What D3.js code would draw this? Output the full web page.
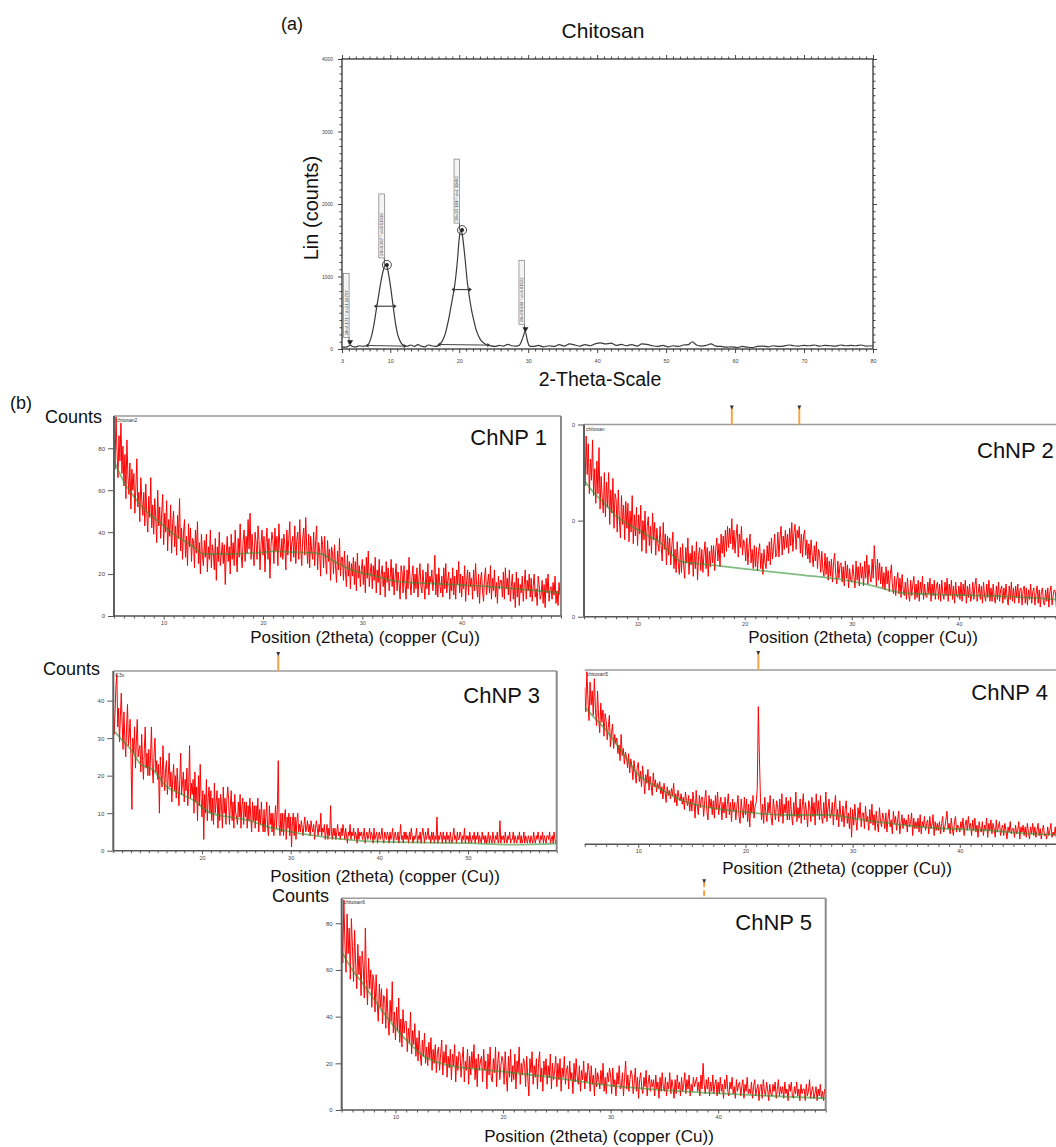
<!DOCTYPE html>
<html>
<head>
<meta charset="utf-8">
<script src="https://cdn.jsdelivr.net/npm/d3@7"></script>
<style>
  body { margin: 0; background: #fff; }
  svg { display: block; }
  text { font-family: "Liberation Sans", Arial, sans-serif; }
</style>
</head>
<body>
<svg id="fig" width="1056" height="1147"></svg>
<script>
// ---------- (a) Chitosan powder pattern: [2theta, counts] ----------
const chitosanPattern = [
  [3.0,30],[3.5,25],[4.0,40],[4.2,55],[4.5,35],[5.0,28],[5.5,45],[6.0,38],[6.5,42],[6.8,60],
  [7.2,150],[7.6,320],[8.0,560],[8.4,790],[8.7,960],[9.0,1090],[9.3,1160],[9.5,1140],[9.8,1010],
  [10.1,820],[10.4,600],[10.8,330],[11.1,190],[11.5,95],[11.9,50],[12.4,38],[13.0,55],[13.5,35],
  [14.0,60],[14.5,40],[15.0,30],[15.5,55],[16.0,45],[16.5,35],[17.0,50],[17.3,75],[17.7,140],
  [18.0,220],[18.4,380],[18.7,530],[19.0,690],[19.3,850],[19.7,1180],[20.0,1520],[20.2,1640],
  [20.4,1600],[20.8,1290],[21.2,900],[21.5,700],[21.8,530],[22.1,400],[22.4,280],[22.8,180],
  [23.1,125],[23.6,80],[24.1,55],[24.6,42],[25.2,35],[25.8,50],[26.4,40],[27.0,65],[27.6,45],
  [28.2,40],[28.7,50],[29.0,100],[29.3,180],[29.55,245],[29.9,110],[30.2,40],[30.8,35],[31.5,50],
  [32.2,30],[33.0,45],[33.8,35],[34.5,60],[35.2,40],[36.0,70],[36.8,55],[37.5,40],[38.2,60],
  [39.0,45],[39.8,75],[40.5,85],[41.2,70],[42.0,80],[42.8,50],[43.5,65],[44.2,45],[45.0,60],
  [45.8,40],[46.5,70],[47.2,65],[48.0,45],[48.8,35],[49.5,50],[50.3,30],[51.0,45],[51.8,35],
  [52.5,55],[53.2,60],[53.8,100],[54.4,55],[55.0,40],[55.8,50],[56.5,70],[57.2,40],[58.0,35],
  [58.8,25],[59.5,30],[60.3,20],[61.0,35],[61.8,25],[62.5,20],[63.2,35],[64.0,40],[64.8,30],
  [65.5,45],[66.3,35],[67.0,40],[67.8,55],[68.5,45],[69.2,40],[70.0,50],[70.8,45],[71.5,55],
  [72.3,40],[73.0,50],[73.8,45],[74.5,40],[75.3,55],[76.0,45],[76.8,50],[77.5,45],[78.3,55],
  [79.0,40],[80.0,45]
];
const chitosanXTicks = [3, 10, 20, 30, 40, 50, 60, 70, 80];
const chitosanYTicks = [0, 1000, 2000, 3000, 4000];
const chitosanPeaks = [
  { theta: 4.171,  counts: 65,   label: "2θ=4.171 ° d=21.16707",  mark: "tri" },
  { theta: 9.287,  counts: 1160, label: "2θ=9.287 ° d=9.51530",   mark: "circle" },
  { theta: 20.189, counts: 1640, label: "2θ=20.189 ° d=4.39482",  mark: "circle" },
  { theta: 29.603, counts: 245,  label: "2θ=29.603 ° d=3.01522",  mark: "tri" }
];
// fitted peak areas: base segment and full width at half maximum
const chitosanFits = [
  { lo: 6.84,  hi: 11.94, base: 48, fwhmLo: 8.05,  fwhmHi: 10.48, half: 590 },
  { lo: 17.28, hi: 24.06, base: 62, fwhmLo: 19.31, fwhmHi: 21.40, half: 820 }
];

// ---------- (b) Nanoparticle scans: counts every 0.1° from the scan start (one row per degree) ----------
const scanStep = 0.1;

const chnp1Counts = [
  88,70,95,79,66,86,74,92,68,81,  62,77,56,84,67,58,73,51,70,60,
  68,49,61,75,52,59,45,66,55,48,  59,43,63,49,40,57,47,66,42,53,
  39,56,47,35,60,43,52,37,49,58,  34,49,40,55,31,46,38,53,30,44,
  50,33,43,29,48,37,56,31,42,27,  40,46,28,38,24,44,33,42,26,37,
  36,23,41,30,45,25,35,20,39,29,  24,36,28,39,21,33,27,41,23,34,
  30,22,37,17,33,26,40,24,29,35,  25,34,15,30,38,26,33,20,39,27,
  35,24,41,29,21,37,28,44,30,23,  36,41,26,38,30,46,32,49,27,39,
  31,24,40,35,27,43,36,22,34,41,  29,38,21,35,42,27,37,18,33,40,
  36,25,42,31,38,24,44,33,28,37,  27,39,34,22,41,29,37,45,26,35,
  38,28,43,25,36,40,27,46,32,24,  37,42,29,47,33,25,39,23,38,31,
  27,40,24,36,43,22,35,31,19,38,  34,23,38,27,20,36,26,32,17,33,
  30,20,34,24,16,31,22,37,19,28,  28,17,31,21,14,29,19,26,13,25,
  19,28,15,26,12,30,18,24,14,22,  27,15,24,11,28,18,31,14,21,25,
  13,24,17,28,11,22,16,27,10,20,  24,14,21,9,26,16,23,12,18,27,
  14,23,10,19,25,12,21,16,8,24,   21,11,24,15,8,22,13,28,17,10,
  19,24,11,20,13,23,9,18,25,14,   11,22,15,8,21,13,25,10,19,16,
  22,12,18,29,10,20,9,23,15,11,   19,9,23,13,25,11,17,21,8,18,
  12,23,10,19,8,22,15,26,11,20,   9,19,13,24,7,17,22,10,21,14,
  18,8,22,12,25,15,9,20,6,17,     21,12,7,18,23,10,15,20,11,24,
  8,18,12,22,9,16,6,19,13,17,     17,9,21,8,23,13,18,10,22,7,
  14,20,8,16,4,21,9,18,5,15,      11,19,7,15,22,8,17,12,20,9,
  18,7,14,20,9,13,5,19,15,8,      10,17,6,15,4,18,11,20,7,13,
  14,8,16,10,19,6,12,5,16,10,
  11
];
const chnp1Background = [[5,74],[6,64],[7,57],[8,51],[9,47],[10,43],[11,39],[12,36],[13,33],[14,29.5],
  [16,29.5],[18,29.8],[20,30.3],[21,30.8],[23,30.5],[25,30.1],[26,29.5],[27,26.5],[28,24],[29,21.9],
  [30,20.5],[31,19.5],[32,18.2],[33,17],[34,16.3],[37,15.5],[40,14.8],[45,13.2],[50,11]];

const chnp2Counts = [
  84,68,94,74,90,64,82,71,92,63,  77,59,81,64,88,56,73,62,54,75,
  52,70,57,75,48,66,54,72,46,64,  61,44,66,51,41,63,48,58,40,60,
  46,59,39,55,44,63,38,53,42,57,  37,53,43,58,34,50,40,55,33,47,
  52,37,47,33,54,40,49,32,46,38,  34,47,37,29,49,35,43,27,42,32,
  41,27,37,44,25,35,23,39,28,22,  36,23,38,27,20,36,28,41,22,33,
  27,37,21,34,25,39,19,32,36,24,  35,23,33,39,25,36,21,34,26,37,
  28,37,24,35,41,29,38,26,43,33,  42,31,45,34,47,36,46,38,51,35,
  45,33,42,48,31,43,36,47,32,40,  38,29,41,27,36,43,28,35,25,37,
  26,36,24,34,38,25,33,22,35,28,  25,37,29,39,27,41,30,36,43,31,
  33,44,31,41,47,32,42,35,45,36,  43,33,46,37,49,34,44,48,35,45,
  41,47,33,43,31,42,45,32,40,30,  38,28,40,32,26,37,29,39,25,35,
  32,23,34,25,21,33,22,31,19,29,  21,30,18,28,33,22,17,29,20,27,
  28,18,26,16,29,20,27,15,25,19,  18,27,21,15,29,19,26,16,28,20,
  26,16,29,20,32,17,27,21,18,30,  20,37,27,16,30,19,28,17,26,15,
  23,14,26,17,24,13,22,27,15,12,  21,11,19,23,12,20,10,22,14,11,
  18,9,20,12,8,19,11,17,21,9,     17,10,19,8,18,12,21,9,17,11,
  10,18,12,20,8,17,11,19,9,16,    18,9,17,8,19,12,9,18,11,20,
  8,17,11,19,9,16,7,18,11,10,     16,9,18,8,17,11,19,7,16,10,
  17,8,11,18,9,16,20,8,12,17,     9,16,7,18,11,8,17,10,19,8,
  15,8,17,10,7,16,9,18,8,14,      16,7,15,9,17,10,6,16,9,18,
  8,15,7,16,10,17,7,14,15,6,      14,16,7,15,6,14,9,17,7,13,
  15,6,12,16,7,14,5,13,15,7,      6,14,8,15,5,13,16,6,11,14,
  13,5,11,14,6,15,5,12,13,6,
  10
];
const chnp2Background = [[5,71],[6,64],[7,58.5],[8,52.4],[9,48.5],[10,45.4],[11,42],[12,39.3],[13,33.5],
  [14,28.8],[15,28],[17,26.8],[20,24.9],[25,21.9],[30,18.4],[32,16],[35,12.2],[40,11.3],[45,10.4],[50,8.5]];
const chnp2Markers = [18.8, 25.1];

const chnp3Counts = [
  40,31,37,44,47,33,38,29,36,42,  34,27,37,30,25,33,39,28,31,35,
  24,11,30,26,33,22,29,35,25,27,  28,21,31,24,19,27,33,22,26,20,
  27,20,25,33,22,18,26,30,21,24,  19,23,10,25,20,17,28,21,16,22,
  24,15,20,26,17,21,13,19,23,16,  20,14,22,17,12,19,26,15,18,21,
  13,19,16,22,12,17,28,14,18,15,  19,10,21,13,17,8,20,12,23,14,
  9,16,3,15,10,19,8,14,17,10,     16,8,14,7,18,10,13,16,6,14,
  8,15,12,6,17,10,14,7,13,17,     14,7,12,16,8,13,6,15,10,9,
  7,13,9,15,6,12,14,7,13,9,       13,6,12,8,14,9,5,13,8,12,
  6,12,8,14,5,11,7,13,8,5,        11,5,9,13,6,4,12,7,10,5,
  10,4,8,12,6,11,24,7,4,10,       5,10,4,9,11,3,9,6,10,4,
  9,1,8,10,4,9,3,8,10,5,          7,5,8,6,4,7,9,5,6,8,
  5,7,4,8,6,5,7,3,6,8,            6,4,7,5,10,4,6,5,7,3,
  5,7,3,6,4,12,5,3,6,4,           6,3,5,7,4,5,3,6,4,7,
  5,3,6,4,2,5,4,7,3,5,            4,6,3,5,4,2,6,3,5,4,
  5,3,4,6,2,4,5,3,4,6,            3,5,4,2,6,3,4,5,2,4,
  5,3,4,6,3,2,5,4,3,5,            4,2,5,3,4,6,2,4,5,3,
  3,5,2,4,7,3,4,2,5,3,            5,3,4,2,5,3,6,4,2,4,
  3,4,6,2,4,3,5,2,4,6,            4,2,5,3,4,6,3,4,2,5,
  3,5,2,4,3,9,2,4,3,5,            4,2,5,3,4,2,5,3,4,2,
  5,3,2,4,6,3,4,2,5,3,            3,5,4,2,4,3,6,2,4,3,
  4,2,5,3,2,4,3,5,2,4,            3,5,2,4,3,2,5,3,4,2,
  4,2,3,5,2,4,3,2,5,3,            2,4,3,5,2,3,8,2,4,3,
  4,2,5,3,2,4,3,5,2,3,            3,5,2,4,3,2,4,3,5,2,
  4,2,3,5,2,4,3,2,4,3,            2,4,3,2,5,3,2,4,3,5,
  3,2,4,3,5,2,4,3,2,4,            4,3,5,2,3,4,2,5,3,2,
  3
];
const chnp3Background = [[10,32.2],[11,29.5],[12,26.9],[13,23.3],[14.5,21.5],[16,17.1],[17.5,15.3],[19,13.5],
  [21,10],[23,9],[25,8.2],[28,6],[31,4.6],[35,3.3],[40,2.4],[50,2.0],[55,1.6],[60,1.9]];
const chnp3Markers = [28.6];

const chnp4Counts = [
  90,76,99,84,71,93,80,88,74,95,  78,68,88,73,64,81,70,77,62,75,
  71,60,67,74,56,64,69,55,63,58,  61,52,57,48,63,51,55,46,53,50,
  44,52,41,49,45,37,48,42,35,44,  47,36,42,33,45,38,29,40,35,43,
  31,39,34,28,41,33,37,30,35,32,  36,29,33,26,35,30,24,33,28,31,
  26,32,28,35,24,29,22,31,27,25,  29,23,27,20,30,25,22,28,19,26,
  19,30,24,15,31,22,17,28,21,27,  27,16,25,31,19,14,28,21,26,17,
  25,15,28,20,30,17,23,27,14,24,  18,27,15,23,29,17,24,13,26,19,
  24,14,22,28,16,12,26,19,15,27,  17,26,13,23,10,25,18,28,15,22,
  24,32,79,50,26,14,23,12,27,18,  13,24,18,28,15,11,26,20,14,25,
  22,13,26,16,29,12,23,18,27,14,  25,14,27,17,11,24,16,30,13,21,
  15,26,12,22,29,14,24,18,10,25,  22,13,27,16,24,11,29,17,25,14,
  28,16,12,24,15,30,13,21,26,15,  17,24,11,22,28,14,20,10,25,16,
  13,22,10,20,25,12,18,9,21,4,    20,11,23,14,8,21,15,24,10,18,
  18,9,22,13,16,8,20,12,23,11,    17,8,19,12,7,21,13,10,18,15,
  9,18,7,15,20,10,14,6,19,12,     16,8,14,19,6,12,17,9,15,11,
  14,7,17,10,12,18,5,15,9,13,     9,15,7,17,6,13,10,16,8,12,
  14,6,16,9,11,17,5,13,8,12,      8,13,6,12,16,7,10,14,19,9,
  12,6,15,9,5,13,16,7,11,10,      7,13,9,15,5,11,14,8,16,9,
  12,5,14,8,15,7,11,4,13,9,       7,13,5,11,8,15,4,12,8,14,
  6,12,9,4,14,7,10,13,5,9,        11,5,12,8,3,10,7,13,6,9,
  9,4,11,6,8,13,3,10,7,11,        5,10,4,12,7,3,10,6,12,5,
  10,4,8,12,5,9,3,8,11,5,         6,3,10,5,8,12,4,7,5,10,
  4,9,5,8,3,6,10,5,8,4,
  6
];
const chnp4Background = [[5,78.9],[6,72],[7,65.6],[8,57],[9,48.4],[10,39.8],[11,35.5],[12,32.1],[13,28.5],
  [14,25.4],[15,23.3],[17,20.7],[20,18.4],[24,16.8],[28,16.8],[30,14.9],[34,11.6],[38,9.2],[42,8.2],[46,6.3],[50,5.4]];
const chnp4Markers = [21.2];

const chnp5Counts = [
  80,63,90,71,59,84,67,78,56,82,  70,55,77,62,52,71,58,66,49,68,
  62,48,78,56,45,65,52,60,44,58,  55,42,58,46,38,54,44,52,37,49,
  48,35,52,40,32,47,38,55,33,42,  30,44,34,48,29,39,27,43,33,38,
  38,25,35,29,42,24,34,28,37,23,  31,21,34,24,19,30,23,33,20,27,
  19,29,22,31,17,26,20,28,16,25,  27,17,24,30,15,25,20,28,14,23,
  18,26,13,24,19,28,12,23,17,25,  24,14,22,27,12,21,17,26,11,23,
  15,25,18,28,13,22,10,24,17,21,  23,12,26,17,21,9,24,15,27,14,
  12,22,16,27,10,20,25,13,19,23,  21,11,25,15,8,23,14,26,12,19,
  13,24,9,21,16,27,11,20,15,22,   20,10,23,14,6,22,16,25,11,19,
  14,22,9,20,25,12,18,8,21,15,    22,11,19,14,24,9,20,13,17,23,
  10,20,13,22,8,18,14,23,11,17,   19,9,21,13,16,7,20,12,22,14,
  11,19,8,17,13,21,9,16,12,20,    17,8,19,11,15,6,18,10,16,13,
  9,17,11,20,8,14,7,16,12,18,     15,7,18,10,13,6,16,11,19,9,
  10,16,6,14,21,9,15,8,13,17,     15,7,12,18,8,14,5,13,16,9,
  7,14,10,17,6,12,15,8,13,10,     13,6,15,9,12,5,14,8,16,10,
  8,14,6,12,9,16,7,13,10,5,       13,7,15,9,12,6,14,8,11,16,
  7,13,9,15,6,11,8,14,10,12,      14,8,12,6,15,9,20,11,7,13,
  9,14,6,12,8,15,7,11,13,6,       12,7,14,8,11,5,13,9,15,8,
  6,12,9,14,7,10,5,13,8,11,       12,6,10,13,5,11,8,14,7,9,
  7,12,5,10,13,6,9,11,4,10,       11,5,13,8,6,12,9,4,11,7,
  6,11,8,12,5,9,13,6,10,7,        10,5,12,7,9,4,11,8,12,6,
  5,10,7,12,6,9,4,11,7,9,         9,4,11,6,8,13,5,8,10,5,
  7,10,4,9,6,11,5,8,4,9,
  6
];
const chnp5Background = [[5,67.8],[6,60],[7,54],[8,47.5],[9,41],[10,35],[11,30],[12,25.5],[13,22],[14,20.3],
  [15,19],[17,17.8],[20,16.4],[25,13.7],[30,10.4],[35,8.5],[40,7.1],[45,6],[50,5]];
const chnp5Markers = [38.7];

const xTitle = "Position (2theta) (copper (Cu))";

// ---------- drawing ----------
const svg = d3.select("#fig");
const defs = svg.append("defs");

function styleTicks(g, size, color) {
  g.select(".domain").remove();
  g.selectAll(".tick line").attr("stroke", color || "#444");
  g.selectAll(".tick text").attr("font-size", size).attr("fill", "#444")
    .attr("font-family", "'Liberation Sans', Arial, sans-serif");
}

// ---- panel (a) ----
(function drawChitosan() {
  const A = { l: 342, r: 873, t: 59, b: 349 };
  const x = d3.scaleLinear().domain([3, 80]).range([A.l, A.r]);
  const y = d3.scaleLinear().domain([0, 4000]).range([A.b, A.t]);
  const g = svg.append("g");

  const xMinor = d3.range(4, 80).filter(v => !chitosanXTicks.includes(v));
  const yMinor = d3.range(100, 4000, 100).filter(v => !chitosanYTicks.includes(v));

  g.append("g").attr("transform", `translate(0,${A.b})`)
    .call(d3.axisBottom(x).tickValues(chitosanXTicks).tickSize(4).tickPadding(6).tickFormat(d3.format("d")))
    .call(s => styleTicks(s, 5.5));
  g.append("g").attr("transform", `translate(0,${A.b})`)
    .call(d3.axisBottom(x).tickValues(xMinor).tickSize(2.5).tickFormat(""))
    .call(s => styleTicks(s, 5.5));
  g.append("g").attr("transform", `translate(0,${A.t})`)
    .call(d3.axisTop(x).tickValues(chitosanXTicks).tickSize(4).tickFormat(""))
    .call(s => styleTicks(s, 5.5));
  g.append("g").attr("transform", `translate(0,${A.t})`)
    .call(d3.axisTop(x).tickValues(xMinor).tickSize(2.5).tickFormat(""))
    .call(s => styleTicks(s, 5.5));
  g.append("g").attr("transform", `translate(${A.l},0)`)
    .call(d3.axisLeft(y).tickValues(chitosanYTicks).tickSize(4).tickPadding(5).tickFormat(d3.format("d")))
    .call(s => styleTicks(s, 5));
  g.append("g").attr("transform", `translate(${A.l},0)`)
    .call(d3.axisLeft(y).tickValues(yMinor).tickSize(2.5).tickFormat(""))
    .call(s => styleTicks(s, 5));
  g.append("g").attr("transform", `translate(${A.r},0)`)
    .call(d3.axisRight(y).tickValues(chitosanYTicks).tickSize(4).tickFormat(""))
    .call(s => styleTicks(s, 5));
  g.append("g").attr("transform", `translate(${A.r},0)`)
    .call(d3.axisRight(y).tickValues(yMinor).tickSize(2.5).tickFormat(""))
    .call(s => styleTicks(s, 5));

  g.append("rect").attr("x", A.l).attr("y", A.t).attr("width", A.r - A.l).attr("height", A.b - A.t)
    .attr("fill", "none").attr("stroke", "#333").attr("stroke-width", 1.3);

  // fitted base segments and half-width bars
  chitosanFits.forEach(f => {
    g.append("line").attr("x1", x(f.lo)).attr("x2", x(f.hi)).attr("y1", y(f.base)).attr("y2", y(f.base - 8))
      .attr("stroke", "#444").attr("stroke-width", 1);
    g.append("line").attr("x1", x(f.fwhmLo)).attr("x2", x(f.fwhmHi)).attr("y1", y(f.half)).attr("y2", y(f.half))
      .attr("stroke", "#444").attr("stroke-width", 1.2);
    [[f.lo, f.base, -1], [f.hi, f.base - 8, 1], [f.fwhmLo, f.half, -1], [f.fwhmHi, f.half, 1]].forEach(([t, c, dir]) => {
      const px = x(t), py = y(c);
      g.append("path").attr("d", `M${px},${py - 2.2}L${px},${py + 2.2}L${px + dir * 3},${py}Z`).attr("fill", "#333");
    });
  });

  g.append("path").datum(chitosanPattern)
    .attr("fill", "none").attr("stroke", "#3a3a3a").attr("stroke-width", 1.2)
    .attr("d", d3.line().x(d => x(d[0])).y(d => y(d[1])).curve(d3.curveMonotoneX));

  // peak markers with rotated labels
  chitosanPeaks.forEach(p => {
    const px = x(p.theta), py = y(p.counts);
    const boxBottom = py - 7, boxH = 64;
    g.append("line").attr("x1", px - 1).attr("x2", px - 1).attr("y1", boxBottom).attr("y2", py)
      .attr("stroke", "#333").attr("stroke-width", 0.8);
    g.append("rect").attr("x", px - 6.5).attr("y", boxBottom - boxH).attr("width", 5.5).attr("height", boxH)
      .attr("fill", "#f4f4f4").attr("stroke", "#666").attr("stroke-width", 0.6);
    g.append("text").attr("transform", `translate(${px - 2.3},${boxBottom - 2}) rotate(-90)`)
      .attr("font-size", 4.3).attr("fill", "#333").text(p.label);
    if (p.mark === "circle") {
      g.append("circle").attr("cx", px + 1.5).attr("cy", py).attr("r", 4.5)
        .attr("fill", "none").attr("stroke", "#333").attr("stroke-width", 0.9);
      g.append("circle").attr("cx", px + 1.5).attr("cy", py).attr("r", 2).attr("fill", "#222");
    } else {
      g.append("path").attr("d", `M${px - 3},${py - 4}L${px + 3},${py - 4}L${px},${py + 1}Z`).attr("fill", "#222");
    }
  });

  svg.append("text").attr("x", 281).attr("y", 30).attr("font-size", 18).attr("fill", "#111").text("(a)");
  svg.append("text").attr("x", 603).attr("y", 38).attr("text-anchor", "middle").attr("font-size", 21).attr("fill", "#111").text("Chitosan");
  svg.append("text").attr("transform", `translate(318,208) rotate(-90)`).attr("text-anchor", "middle")
    .attr("font-size", 20).attr("fill", "#111").text("Lin (counts)");
  svg.append("text").attr("x", 600).attr("y", 386).attr("text-anchor", "middle").attr("font-size", 19.5)
    .attr("fill", "#111").text("2-Theta-Scale");
})();

svg.append("text").attr("x", 10).attr("y", 409).attr("font-size", 18).attr("fill", "#111").text("(b)");

// ---- panels (b) ----
const panels = [
  { id: "p1", name: "ChNP 1", tag: "chitosan2", counts: chnp1Counts, start: 5, bg: chnp1Background, markers: [],
    xDomain: [5, 50], yDomain: [0, 95.4], xLabels: [10, 20, 30, 40], yLabels: [0, 20, 40, 60, 80],
    box: { l: 114, r: 561, t: 416, b: 616 }, nameAt: [547, 445, "end"], titleAt: [365, 643], countsAt: [45, 423], leftAxis: true },
  { id: "p2", name: "ChNP 2", tag: "chitosan", counts: chnp2Counts, start: 5, bg: chnp2Background, markers: chnp2Markers,
    xDomain: [5, 50], yDomain: [0, 100], xLabels: [10, 20, 30, 40], yLabels: [0, 50, 100], clipLabelsFrom: 572,
    box: { l: 584, r: 1066, t: 424.5, b: 616.7 }, nameAt: [977, 458, "start"], titleAt: [863, 643], leftAxis: true },
  { id: "p3", name: "ChNP 3", tag: "C3x", counts: chnp3Counts, start: 10, bg: chnp3Background, markers: chnp3Markers,
    xDomain: [10, 60], yDomain: [0, 47.9], xLabels: [20, 30, 40, 50], yLabels: [0, 10, 20, 30, 40],
    box: { l: 113.3, r: 556.7, t: 671, b: 850.7 }, nameAt: [540, 703, "end"], titleAt: [385, 882], countsAt: [43, 675], leftAxis: true },
  { id: "p4", name: "ChNP 4", tag: "chitosan5", counts: chnp4Counts, start: 5, bg: chnp4Background, markers: chnp4Markers,
    xDomain: [5, 50], yDomain: [0, 100], xLabels: [10, 20, 30, 40], yLabels: [],
    box: { l: 584.7, r: 1067, t: 670, b: 844.3 }, nameAt: [1048, 700, "end"], titleAt: [837, 874], leftAxis: false },
  { id: "p5", name: "ChNP 5", tag: "chitosan6", counts: chnp5Counts, start: 5, bg: chnp5Background, markers: chnp5Markers, dashedMarker: true,
    xDomain: [5, 50], yDomain: [0, 90.7], xLabels: [10, 20, 30, 40], yLabels: [0, 20, 40, 60, 80],
    box: { l: 341.7, r: 825.7, t: 898.3, b: 1110 }, nameAt: [812, 930, "end"], titleAt: [599, 1142], countsAt: [272, 902], leftAxis: true }
];

panels.forEach(p => {
  const B = p.box;
  const x = d3.scaleLinear().domain(p.xDomain).range([B.l, B.r]);
  const y = d3.scaleLinear().domain(p.yDomain).range([B.b, B.t]);
  const g = svg.append("g");

  defs.append("clipPath").attr("id", "clip-" + p.id)
    .append("rect").attr("x", B.l).attr("y", B.t).attr("width", B.r - B.l).attr("height", B.b - B.t);

  // observed scan
  const scan = p.counts.map((c, i) => [p.start + i * scanStep, c]);
  g.append("path").datum(scan).attr("clip-path", `url(#clip-${p.id})`)
    .attr("fill", "none").attr("stroke", "#ff0000").attr("stroke-width", 1)
    .attr("d", d3.line().x(d => x(d[0])).y(d => y(d[1])));

  // fitted background (semi-transparent, so it reads olive over the red trace)
  g.append("path").datum(p.bg).attr("clip-path", `url(#clip-${p.id})`)
    .attr("fill", "none").attr("stroke", "#2f8f2f").attr("stroke-opacity", 0.6).attr("stroke-width", 1.8)
    .attr("d", d3.line().x(d => x(d[0])).y(d => y(d[1])).curve(d3.curveMonotoneX));

  // axes
  const lo = Math.ceil(p.xDomain[0]), hi = Math.floor(p.xDomain[1]);
  const minor = d3.range(lo, hi + 1).filter(v => !p.xLabels.includes(v));
  g.append("g").attr("transform", `translate(0,${B.b})`)
    .call(d3.axisBottom(x).tickValues(p.xLabels).tickSize(3.5).tickPadding(1.5).tickFormat(d3.format("d")))
    .call(s => styleTicks(s, 5.5, "#555"));
  g.append("g").attr("transform", `translate(0,${B.b})`)
    .call(d3.axisBottom(x).tickValues(minor).tickSize(2.5).tickFormat(""))
    .call(s => styleTicks(s, 5.5, "#555"));
  if (p.yLabels.length) {
    const ya = g.append("g").attr("transform", `translate(${B.l},0)`)
      .call(d3.axisLeft(y).tickValues(p.yLabels).tickSize(6).tickPadding(3).tickFormat(d3.format("d")))
      .call(s => styleTicks(s, 6, "#555"));
    if (p.clipLabelsFrom) {
      defs.append("clipPath").attr("id", "lab-" + p.id).append("rect")
        .attr("x", p.clipLabelsFrom - B.l).attr("y", -2000).attr("width", 400).attr("height", 4000);
      ya.selectAll(".tick text").attr("clip-path", `url(#lab-${p.id})`);
    }
  }

  // frame
  g.append("line").attr("x1", B.l).attr("x2", B.r).attr("y1", B.t).attr("y2", B.t).attr("stroke", "#9a9a9a").attr("stroke-width", 1.6);
  g.append("line").attr("x1", B.r).attr("x2", B.r).attr("y1", B.t).attr("y2", B.b).attr("stroke", "#8a8a8a").attr("stroke-width", 2);
  if (p.leftAxis) {
    g.append("line").attr("x1", B.l).attr("x2", B.l).attr("y1", B.t).attr("y2", B.b).attr("stroke", "#5e5e5e").attr("stroke-width", 2);
  }
  g.append("line").attr("x1", B.l).attr("x2", B.r).attr("y1", B.b).attr("y2", B.b).attr("stroke", "#555").attr("stroke-width", 1.5);

  // reference markers above the frame
  p.markers.forEach(t => {
    const px = x(t);
    g.append("line").attr("x1", px).attr("x2", px).attr("y1", B.t - 17).attr("y2", B.t)
      .attr("stroke", "#f6a445").attr("stroke-width", 2)
      .attr("stroke-dasharray", p.dashedMarker ? "6,3" : null);
    g.append("path").attr("d", `M${px - 2},${B.t - 19}L${px + 2},${B.t - 19}L${px},${B.t - 15}Z`).attr("fill", "#333");
  });

  // labels
  g.append("text").attr("x", B.l + 2).attr("y", B.t + 6).attr("font-size", 5).attr("fill", "#333").text(p.tag);
  g.append("text").attr("x", p.nameAt[0]).attr("y", p.nameAt[1]).attr("text-anchor", p.nameAt[2])
    .attr("font-size", 22).attr("fill", "#111").text(p.name);
  g.append("text").attr("x", p.titleAt[0]).attr("y", p.titleAt[1]).attr("text-anchor", "middle")
    .attr("font-size", 17).attr("fill", "#111").text(xTitle);
  if (p.countsAt) {
    g.append("text").attr("x", p.countsAt[0]).attr("y", p.countsAt[1]).attr("font-size", 18).attr("fill", "#111").text("Counts");
  }
});
</script>
</body>
</html>
